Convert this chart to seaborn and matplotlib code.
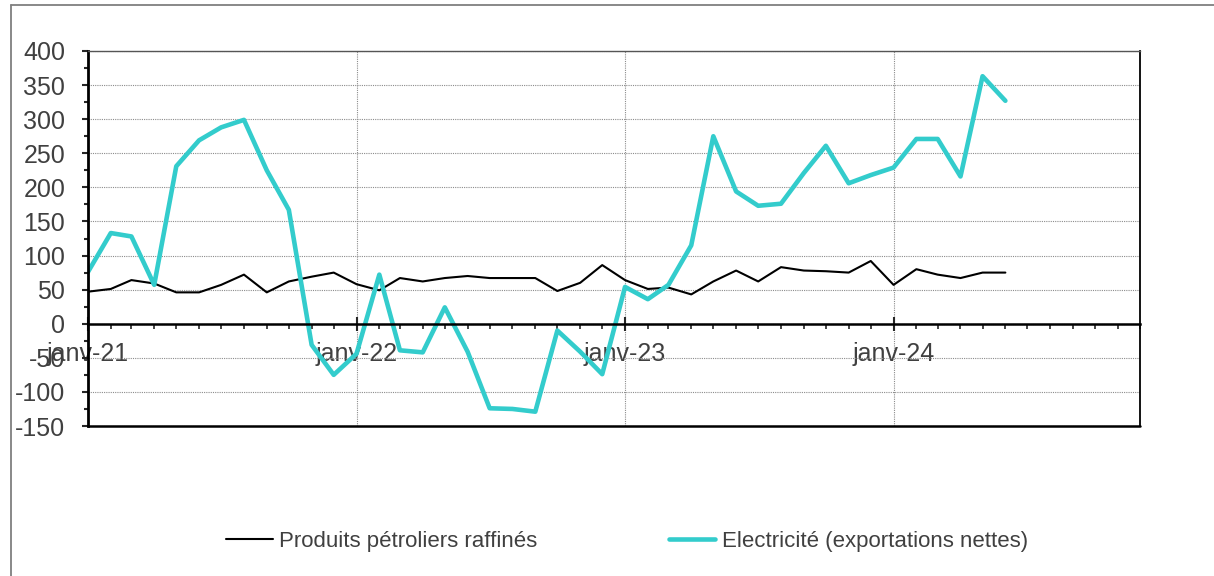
import numpy as np
import pandas as pd
import matplotlib
matplotlib.use("Agg")
import matplotlib.pyplot as plt
import matplotlib.dates as mdates
from matplotlib.ticker import MultipleLocator, FuncFormatter
from matplotlib.lines import Line2D
import seaborn as sns

# Monthly values, janv-21 .. juin-24
petrole = [47, 51, 64, 59, 46, 46, 57, 72, 46, 62, 69, 75,
           58, 49, 67, 62, 67, 70, 67, 67, 67, 48, 60, 86,
           64, 51, 53, 43, 62, 78, 62, 83, 78, 77, 75, 92,
           57, 80, 72, 67, 75, 75]
electricite = [76, 133, 128, 57, 231, 269, 288, 299, 225, 167, -31, -75,
               -44, 72, -39, -42, 24, -41, -124, -125, -129, -10, -41, -74,
               54, 36, 57, 115, 275, 194, 173, 176, 221, 261, 206, 218,
               229, 271, 271, 216, 363, 327]
start_month = "2021-01-01"
x_end = "2024-12-01"
label_petrole = "Produits pétroliers raffinés"
label_elec = "Electricité (exportations nettes)"

CYAN = "#33CCCC"
TXT = "#404040"

dates = pd.date_range(start_month, periods=len(petrole), freq="MS")
df = pd.DataFrame({"date": dates, "petrole": petrole, "electricite": electricite})

sns.set_style("white")
plt.rcParams["font.family"] = ["Liberation Sans", "DejaVu Sans"]
plt.rcParams["axes.unicode_minus"] = False

fig = plt.figure(figsize=(12.14, 5.76), dpi=100)
ax = fig.add_axes([88 / 1214, 1 - 426 / 576, (1140 - 88) / 1214, (426 - 51) / 576])

sns.lineplot(data=df, x="date", y="petrole", color="black", lw=1.5, ax=ax, label=label_petrole)
sns.lineplot(data=df, x="date", y="electricite", color=CYAN, lw=3.3, ax=ax, label=label_elec)

ax.set_xlim(pd.Timestamp(start_month), pd.Timestamp(x_end))
ax.set_ylim(-150, 400)
ax.set_xlabel("")
ax.set_ylabel("")

# y axis
ax.yaxis.set_major_locator(MultipleLocator(50))
ax.yaxis.set_minor_locator(MultipleLocator(25))
ax.tick_params(axis="y", which="major", direction="out", length=4.3, width=1.5,
               labelsize=18, labelcolor=TXT, pad=12, left=True)
ax.tick_params(axis="y", which="minor", direction="out", length=3, width=1.5, left=True)

# x axis drawn at y = 0
ax.xaxis.set_major_locator(mdates.YearLocator())
ax.xaxis.set_minor_locator(mdates.MonthLocator())
ax.xaxis.set_major_formatter(FuncFormatter(lambda v, p: "janv-" + mdates.num2date(v).strftime("%y")))
ax.tick_params(axis="x", which="major", direction="inout", length=10, width=1.5,
               labelsize=18, labelcolor=TXT, pad=8, bottom=True)
ax.tick_params(axis="x", which="minor", direction="out", length=3.6, width=1.2, bottom=True)
ax.spines["bottom"].set_position(("data", 0))

for s in ["left", "bottom", "right"]:
    ax.spines[s].set_visible(True)
    ax.spines[s].set_color("black")
ax.spines["left"].set_linewidth(2)
ax.spines["bottom"].set_linewidth(1.8)
ax.spines["right"].set_linewidth(1.3)
ax.spines["top"].set_color("#555555")
ax.spines["top"].set_linewidth(1.0)
ax.axhline(-150, color="black", lw=1.8, clip_on=False, zorder=3)

ax.grid(True, which="major", axis="both", color="#8c8c8c", linestyle=(0, (1, 1)), linewidth=0.8)
ax.set_axisbelow(True)

# legend at bottom
leg = ax.legend(loc="center", bbox_to_anchor=(627 / 1214, 1 - 541 / 576),
                bbox_transform=fig.transFigure, ncol=2, frameon=False, fontsize=16,
                handlelength=2.1, handletextpad=0.3, columnspacing=5.9)
for t in leg.get_texts():
    t.set_color(TXT)

# outer chart frame (left and top edges)
fig.add_artist(Line2D([11 / 1214, 11 / 1214], [0, 1 - 5 / 576], transform=fig.transFigure,
                      color="#7f7f7f", lw=1.3))
fig.add_artist(Line2D([11 / 1214, 1], [1 - 5 / 576, 1 - 5 / 576], transform=fig.transFigure,
                      color="#7f7f7f", lw=1.3))

fig.savefig("out.png", dpi=100)
